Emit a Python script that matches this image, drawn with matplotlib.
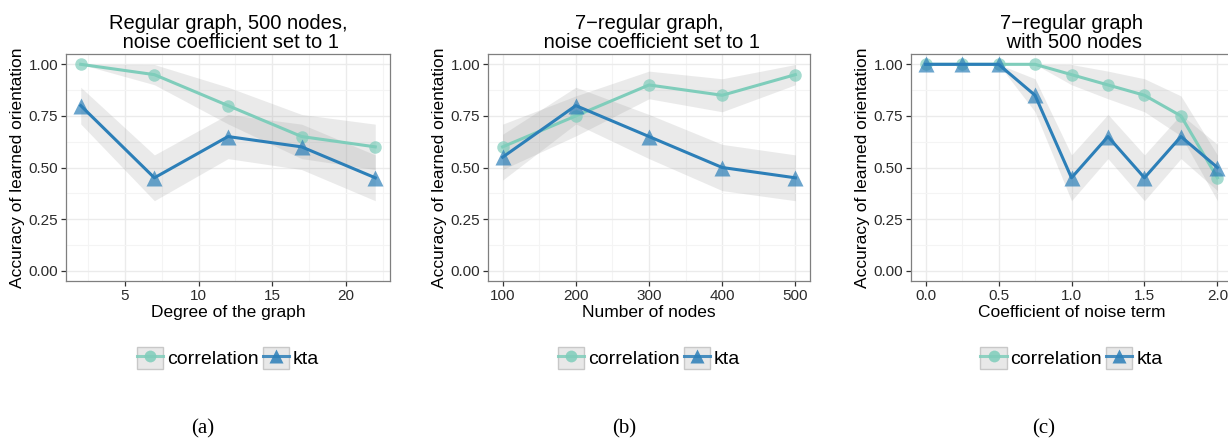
import matplotlib
matplotlib.use("Agg")
import matplotlib.pyplot as plt
from matplotlib.lines import Line2D
from matplotlib.patches import Rectangle
from matplotlib.legend_handler import HandlerTuple
from matplotlib.ticker import MultipleLocator

plt.rcParams['font.family'] = ['Liberation Sans', 'DejaVu Sans']

# (a) regular graph, 500 nodes, noise = 1
degree = [2, 7, 12, 17, 22]
corr_a = [1.00, 0.95, 0.80, 0.65, 0.60]
kta_a = [0.80, 0.45, 0.65, 0.60, 0.45]
corr_a_se = [0.000, 0.049, 0.089, 0.107, 0.110]
kta_a_se = [0.089, 0.111, 0.107, 0.110, 0.111]

# (b) 7-regular graph, noise = 1
nodes = [100, 200, 300, 400, 500]
corr_b = [0.60, 0.75, 0.90, 0.85, 0.95]
kta_b = [0.55, 0.80, 0.65, 0.50, 0.45]
corr_b_se = [0.110, 0.097, 0.067, 0.080, 0.049]
kta_b_se = [0.111, 0.089, 0.107, 0.112, 0.111]

# (c) 7-regular graph, 500 nodes
noise = [0.0, 0.25, 0.5, 0.75, 1.0, 1.25, 1.5, 1.75, 2.0]
corr_c = [1.00, 1.00, 1.00, 1.00, 0.95, 0.90, 0.85, 0.75, 0.45]
kta_c = [1.00, 1.00, 1.00, 0.85, 0.45, 0.65, 0.45, 0.65, 0.50]
corr_c_se = [0.0, 0.0, 0.0, 0.0, 0.049, 0.067, 0.080, 0.097, 0.111]
kta_c_se = [0.0, 0.0, 0.0, 0.080, 0.111, 0.107, 0.111, 0.107, 0.112]

CORR = '#7fcdbb'
KTA = '#2c7fb8'

panels = [
    dict(x=degree, corr=corr_a, kta=kta_a, corr_se=corr_a_se, kta_se=kta_a_se,
         title='Regular graph, 500 nodes,\n noise coefficient set to 1',
         xlabel='Degree of the graph', xlim=(1, 23), major=5, minor=2.5,
         fmt='{:.0f}', left=66, right=390, cap='(a)', capx=203),
    dict(x=nodes, corr=corr_b, kta=kta_b, corr_se=corr_b_se, kta_se=kta_b_se,
         title='7\u2212regular graph,\n noise coefficient set to 1',
         xlabel='Number of nodes', xlim=(80, 520), major=100, minor=50,
         fmt='{:.0f}', left=488, right=810, cap='(b)', capx=624),
    dict(x=noise, corr=corr_c, kta=kta_c, corr_se=corr_c_se, kta_se=kta_c_se,
         title='7\u2212regular graph\n with 500 nodes',
         xlabel='Coefficient of noise term', xlim=(-0.1, 2.1), major=0.5, minor=0.25,
         fmt='{:.1f}', left=911, right=1232, cap='(c)', capx=1044),
]

W, H = 1228, 440
fig = plt.figure(figsize=(W / 100, H / 100), dpi=100)

for p in panels:
    ax = fig.add_axes([p['left'] / W, 1 - 281 / H, (p['right'] - p['left']) / W, 227 / H])
    x = p['x']
    # standard-error ribbons
    for y, se in ((p['corr'], p['corr_se']), (p['kta'], p['kta_se'])):
        lo = [v - s for v, s in zip(y, se)]
        hi = [v + s for v, s in zip(y, se)]
        ax.fill_between(x, lo, hi, color='#999999', alpha=0.2, linewidth=0, zorder=2)
    ax.plot(x, p['corr'], color=CORR, lw=2.2, zorder=3)
    ax.plot(x, p['corr'], 'o', color=CORR, ms=9, alpha=0.7, mec='none', zorder=4)
    ax.plot(x, p['kta'], color=KTA, lw=2.2, zorder=5)
    ax.plot(x, p['kta'], '^', color=KTA, ms=11, alpha=0.7, mec='none', zorder=6)

    ax.set_xlim(*p['xlim'])
    ax.xaxis.set_major_locator(MultipleLocator(p['major']))
    ax.xaxis.set_minor_locator(MultipleLocator(p['minor']))
    ax.yaxis.set_major_locator(MultipleLocator(0.25))
    ax.yaxis.set_minor_locator(MultipleLocator(0.125))
    ax.set_xticks([t for t in ax.get_xticks() if p['xlim'][0] <= t <= p['xlim'][1]])
    ax.set_xticklabels([p['fmt'].format(t) for t in ax.get_xticks()])
    ax.set_ylim(-0.05, 1.05)
    ax.set_yticks([0, 0.25, 0.5, 0.75, 1.0])
    ax.set_yticklabels(['{:.2f}'.format(t) for t in ax.get_yticks()])
    ax.grid(True, which='major', color='#ebebeb', lw=1.0, zorder=0)
    ax.grid(True, which='minor', color='#f4f4f4', lw=0.8, zorder=0)
    ax.set_axisbelow(True)
    ax.tick_params(which='major', length=3.5, width=0.9, color='#333333',
                   labelsize=11, labelcolor='#2b2b2b', pad=2)
    ax.tick_params(which='minor', length=0)
    for s in ax.spines.values():
        s.set_color('#7f7f7f')
        s.set_linewidth(0.9)

    ax.set_title(p['title'], fontsize=14.5, linespacing=1.05, pad=4)
    ax.set_xlabel(p['xlabel'], fontsize=12.5, labelpad=2)
    ax.set_ylabel('Accuracy of learned orientation', fontsize=12.5, labelpad=3)

    key = dict(facecolor='#e8e8e8', edgecolor='#c8c8c8', lw=1)
    h_corr = (Rectangle((0, 0), 1, 1, **key),
              Line2D([], [], color=CORR, lw=2.2, marker='o', ms=8.5, mec='none', alpha=0.85))
    h_kta = (Rectangle((0, 0), 1, 1, **key),
             Line2D([], [], color=KTA, lw=2.2, marker='^', ms=10, mec='none', alpha=0.85))
    cx = (p['left'] + p['right']) / 2 / W
    fig.legend([h_corr, h_kta], ['correlation', 'kta'],
               handler_map={tuple: HandlerTuple(ndivide=1, pad=0)},
               loc='center', bbox_to_anchor=(cx, 1 - 358 / H), bbox_transform=fig.transFigure,
               ncol=2, frameon=False, fontsize=14, numpoints=1,
               handlelength=1.35, handleheight=1.35, handletextpad=0.2,
               columnspacing=0.2, borderpad=0)

    fig.text(p['capx'] / W, 1 - 429 / H, p['cap'], ha='center', va='center',
             fontsize=15, family=['Liberation Serif', 'DejaVu Serif'])

fig.savefig('out.png', dpi=100)
